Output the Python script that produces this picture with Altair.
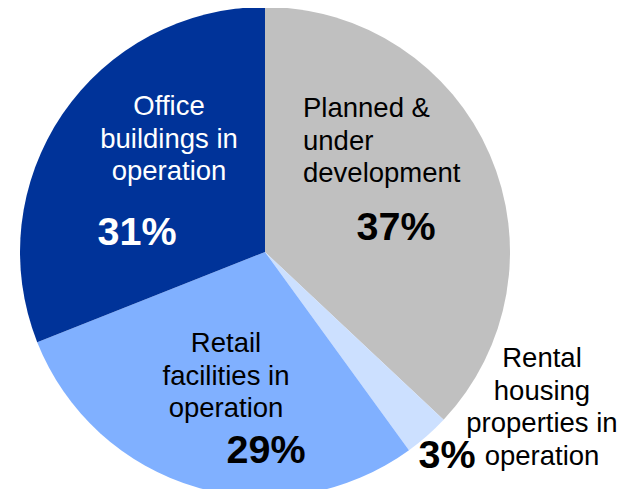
import altair as alt
import pandas as pd

categories = ["Planned & under development", "Rental housing properties in operation",
              "Retail facilities in operation", "Office buildings in operation"]
shares = [37, 3, 29, 31]
label_lines = ["Planned &\nunder\ndevelopment", "Rental\nhousing\nproperties in\noperation",
               "Retail\nfacilities in\noperation", "Office\nbuildings in\noperation"]
pct_labels = ["37%", "3%", "29%", "31%"]
colors = ["#C0C0C0", "#CCE0FF", "#80B0FF", "#003399"]
label_colors = ["#000000", "#000000", "#000000", "#FFFFFF"]

df = pd.DataFrame({
    "category": categories,
    "share": shares,
    "order": list(range(len(categories))),
    "label": label_lines,
    "pct": pct_labels,
})

W, H = 617, 481
CX, CY, R = 257, 244, 245

pie = alt.Chart(df).mark_arc(radius=R, stroke=None).encode(
    theta=alt.Theta("share:Q", stack=True),
    order=alt.Order("order:Q"),
    color=alt.Color("category:N", scale=alt.Scale(domain=categories, range=colors), legend=None),
    x=alt.value(CX),
    y=alt.value(CY),
)

FONT = "Liberation Sans"
# (x, y of first baseline, align) for name labels; (x, y baseline) for percent labels
name_pos = [(295, 109, "left"), (534, 359, "center"), (218, 344, "center"), (161, 107, "center")]
pct_pos = [(388, 232), (439, 460), (258, 455), (129, 237)]

layers = [pie]
for i, cat in enumerate(categories):
    base = alt.Chart(df).transform_filter(alt.datum.category == cat)
    nx, ny, al = name_pos[i]
    layers.append(base.mark_text(
        x=nx, y=ny, align=al, baseline="alphabetic", lineBreak="\n", lineHeight=32.5,
        font=FONT, fontSize=27.5, color=label_colors[i]
    ).encode(text="label:N"))
    px, py = pct_pos[i]
    layers.append(base.mark_text(
        x=px, y=py, align="center", baseline="alphabetic",
        font=FONT, fontSize=39.5, fontWeight="bold", color=label_colors[i]
    ).encode(text="pct:N"))

chart = alt.layer(*layers).properties(
    width=W, height=H, padding=0, autosize=alt.AutoSizeParams(type="none")
).configure_view(stroke=None)

chart.save("out.html", embed_options={"renderer": "svg", "actions": False})
